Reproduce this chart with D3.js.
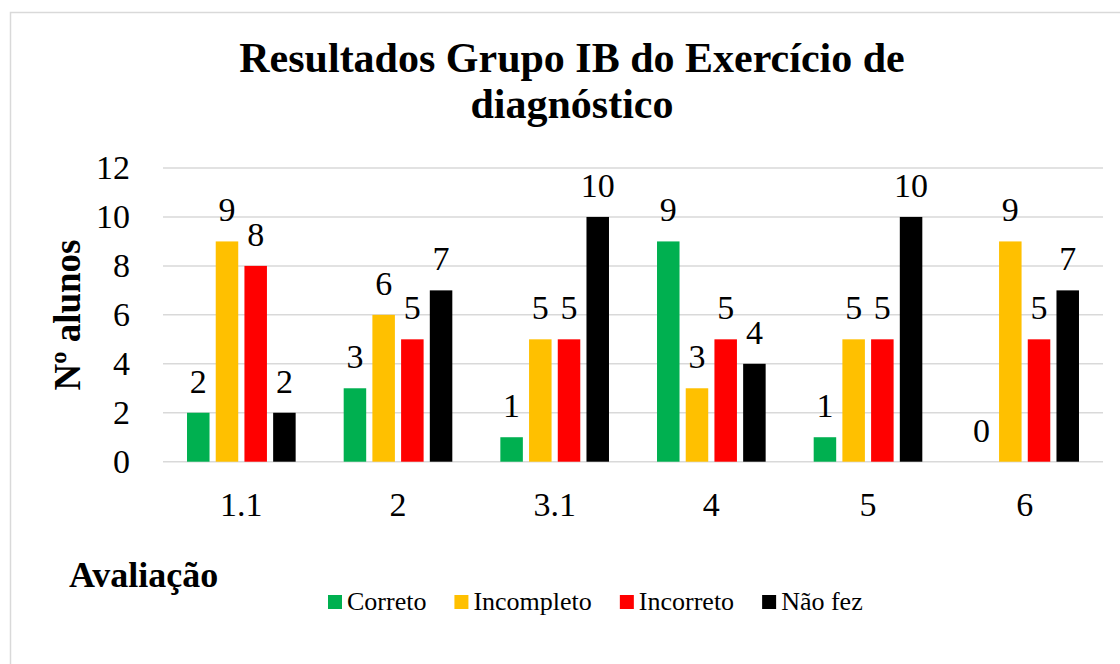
<!DOCTYPE html>
<html>
<head>
<meta charset="utf-8">
<script src="https://cdn.jsdelivr.net/npm/d3@7"></script>
<style>
  body { margin: 0; background: #fff; }
  svg text { font-family: "Liberation Serif", "Times New Roman", Times, Tinos, "Noto Serif", "DejaVu Serif", serif; fill: #000; }
</style>
</head>
<body>
<svg id="chart" width="1120" height="664"></svg>
<script>
// data
var categories = ["1.1", "2", "3.1", "4", "5", "6"];
var seriesNames = ["Correto", "Incompleto", "Incorreto", "Não fez"];
var correto = [2, 3, 1, 9, 1, 0];
var incompleto = [9, 6, 5, 3, 5, 9];
var incorreto = [8, 5, 5, 5, 5, 5];
var naoFez = [2, 7, 10, 4, 10, 7];
var yTicks = [0, 2, 4, 6, 8, 10, 12];
var colors = ["#00B050", "#FFC000", "#FF0000", "#000000"];

var seriesValues = [correto, incompleto, incorreto, naoFez];
var serif = "'Liberation Serif', 'Times New Roman', Times, Tinos, 'Noto Serif', 'DejaVu Serif', serif";

var svg = d3.select("#chart");

// outer frame
svg.append("rect")
    .attr("x", 10.5).attr("y", 12.5)
    .attr("width", 1200).attr("height", 700)
    .attr("fill", "#fff")
    .attr("stroke", "#d9d9d9")
    .attr("stroke-width", 1.5);

var plot = { left: 163, right: 1103, top: 168, bottom: 461.7 };

var x0 = d3.scaleBand()
    .domain(categories)
    .range([plot.left, plot.right])
    .paddingInner(0.267)
    .paddingOuter(0.1335);

var x1 = d3.scaleBand()
    .domain(seriesNames)
    .range([0, x0.bandwidth()])
    .paddingInner(0.216)
    .paddingOuter(0.108);

var y = d3.scaleLinear()
    .domain([0, 12])
    .range([plot.bottom, plot.top]);

// gridlines
svg.append("g")
    .selectAll("line")
    .data(yTicks)
    .enter().append("line")
    .attr("x1", plot.left).attr("x2", plot.right)
    .attr("y1", function (d) { return y(d); })
    .attr("y2", function (d) { return y(d); })
    .attr("stroke", "#d9d9d9")
    .attr("stroke-width", 1.5);

// y axis labels
var yAxis = svg.append("g")
    .attr("transform", "translate(" + (plot.left - 8) + ",0)")
    .call(d3.axisLeft(y).tickValues(yTicks).tickSize(0).tickPadding(25));
yAxis.attr("font-family", serif);
yAxis.select(".domain").remove();
yAxis.selectAll("text")
    .style("font-family", serif)
    .attr("font-size", 34)
    .attr("fill", "#000");

// x axis labels
var xAxis = svg.append("g")
    .attr("transform", "translate(0," + plot.bottom + ")")
    .call(d3.axisBottom(x0).tickSize(0).tickPadding(30));
xAxis.attr("font-family", serif);
xAxis.select(".domain").remove();
xAxis.selectAll("text")
    .style("font-family", serif)
    .attr("font-size", 34)
    .attr("fill", "#000");

// bars
var rows = [];
categories.forEach(function (c, i) {
    seriesNames.forEach(function (s, j) {
        rows.push({ cat: c, series: s, value: seriesValues[j][i], color: colors[j] });
    });
});

var bars = svg.append("g");
bars.selectAll("rect")
    .data(rows)
    .enter().append("rect")
    .attr("x", function (d) { return x0(d.cat) + x1(d.series); })
    .attr("y", function (d) { return y(d.value); })
    .attr("width", x1.bandwidth())
    .attr("height", function (d) { return y(0) - y(d.value); })
    .attr("fill", function (d) { return d.color; });

bars.selectAll("text")
    .data(rows)
    .enter().append("text")
    .attr("x", function (d) { return x0(d.cat) + x1(d.series) + x1.bandwidth() / 2; })
    .attr("y", function (d) { return y(d.value) - 20; })
    .attr("text-anchor", "middle")
    .attr("font-size", 34)
    .text(function (d) { return d.value; });

// title
var title = svg.append("text")
    .attr("text-anchor", "middle")
    .attr("font-size", 42)
    .attr("font-weight", "bold");
title.append("tspan").attr("x", 572).attr("y", 72).text("Resultados Grupo IB do Exercício de");
title.append("tspan").attr("x", 572).attr("y", 118).text("diagnóstico");

// y axis title
svg.append("text")
    .attr("transform", "translate(80,315) rotate(-90)")
    .attr("text-anchor", "middle")
    .attr("font-size", 37)
    .attr("font-weight", "bold")
    .text("Nº alunos");

// x axis title
svg.append("text")
    .attr("x", 69)
    .attr("y", 587)
    .attr("font-size", 36)
    .attr("font-weight", "bold")
    .text("Avaliação");

// legend
var legend = svg.append("g");
var lx = 328;
seriesNames.forEach(function (s, j) {
    var item = legend.append("g").attr("transform", "translate(" + lx + ",0)");
    item.append("rect")
        .attr("x", 0).attr("y", 595)
        .attr("width", 14).attr("height", 14)
        .attr("fill", colors[j]);
    var t = item.append("text")
        .attr("x", 19).attr("y", 610)
        .attr("font-size", 26)
        .text(s);
    lx += 19 + t.node().getComputedTextLength() + 28;
});
</script>
</body>
</html>
